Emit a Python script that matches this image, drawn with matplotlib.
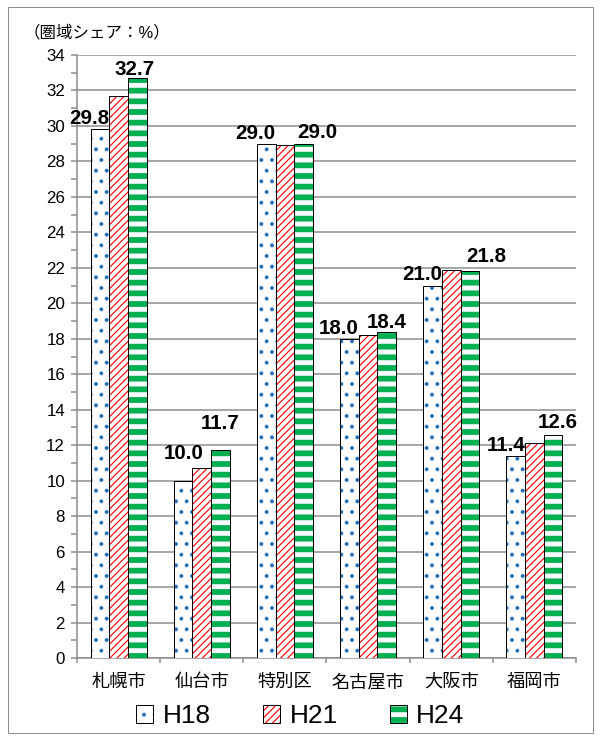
import numpy as np
import matplotlib
matplotlib.use('Agg')
import matplotlib.pyplot as plt
from matplotlib.patches import Rectangle, Patch

plt.rcParams['font.family'] = ['Liberation Sans', 'Noto Sans CJK JP', 'DejaVu Sans']

# data
cities = ['札幌市', '仙台市', '特別区', '名古屋市', '大阪市', '福岡市']
series = ['H18', 'H21', 'H24']
h18 = [29.8, 10.0, 29.0, 18.0, 21.0, 11.4]
h21 = [31.7, 10.7, 28.9, 18.2, 21.85, 12.1]
h24 = [32.7, 11.7, 29.0, 18.4, 21.8, 12.6]
yticks = list(range(0, 35, 2))
ylabel = '（圏域シェア：%）'

# styles (dpi 64 so that hatch spacing matches the reference)
DPI = 64
PX = 72 / DPI  # points per pixel
fills = ['#1f6fc0', '#ff0000', '#00b050']
hatches = ['.', '///', '-']
hatch_lw = [1.9, 1.3, 6.5]
grey = '#8c8c8c'
# label offsets in pixels (H18 right aligned to bar, H24 centred)
h18_dx = [0, 11, 0, 0, 0, 0]
h18_dy = [1, 18, 1, 1, 2, 1]
h24_dx = [-3, 0, 14, 0, 16, 5]
h24_dy = [-1, 17, 2, 0, 5, 3]


def hatched(artist, lw):
    if hasattr(artist, 'set_hatch_linewidth'):
        artist.set_hatch_linewidth(lw)


fig = plt.figure(figsize=(601 / DPI, 740 / DPI), dpi=DPI)
fig.patches.append(Rectangle((8 / 601, 7 / 740), 585 / 601, 726 / 740,
                             transform=fig.transFigure, fill=False,
                             edgecolor=grey, linewidth=1.1))
ax = fig.add_axes([77 / 601, 82 / 740, 499 / 601, 603 / 740])

x = np.arange(len(cities))
w = 0.225
for i, vals in enumerate([h18, h21, h24]):
    pos = x + (i - 1) * w
    with plt.rc_context({'hatch.linewidth': hatch_lw[i]}):
        bars = ax.bar(pos, vals, w, color='white', edgecolor=fills[i],
                      hatch=hatches[i], linewidth=0, zorder=3)
    for b in bars:
        hatched(b, hatch_lw[i])
    ax.bar(pos, vals, w, fill=False, edgecolor='black', linewidth=1.1, zorder=4)

for j in range(len(cities)):
    ax.annotate(f'{h18[j]:.1f}', (x[j] - w / 2, h18[j]),
                xytext=(h18_dx[j] * PX, h18_dy[j] * PX), textcoords='offset points',
                ha='right', va='bottom', fontsize=23, fontweight='bold', zorder=6)
    ax.annotate(f'{h24[j]:.1f}', (x[j] + w, h24[j]),
                xytext=(h24_dx[j] * PX, h24_dy[j] * PX), textcoords='offset points',
                ha='center', va='bottom', fontsize=23, fontweight='bold', zorder=6)

ax.set_ylim(0, 34)
ax.set_xlim(-0.5, len(cities) - 0.5)
ax.set_yticks(yticks)
ax.set_yticks(range(1, 34, 2), minor=True)
ax.set_xticks(x)
ax.set_xticklabels(cities, fontsize=20.5)
ax.set_xticks(np.arange(-0.5, len(cities)), minor=True)
ax.tick_params(axis='x', which='major', length=0, pad=16 * PX)
ax.tick_params(axis='x', which='minor', length=5 * PX, width=1.5 * PX, color=grey)
ax.tick_params(axis='y', which='both', length=6 * PX, width=1.5 * PX, color=grey,
               labelsize=19, pad=6 * PX)
ax.grid(axis='y', color=grey, linewidth=1.5 * PX, zorder=0)
ax.set_axisbelow(True)
for s in ['top', 'right']:
    ax.spines[s].set_visible(False)
for s in ['left', 'bottom']:
    ax.spines[s].set_color(grey)
    ax.spines[s].set_linewidth(1.5 * PX)

fig.text(97 / 601, 1 - 33 / 740, ylabel, fontsize=18.5, va='center', ha='center')

handles = []
for i in range(3):
    with plt.rc_context({'hatch.linewidth': hatch_lw[i]}):
        hp = Patch(facecolor='white', edgecolor=fills[i], hatch=hatches[i], linewidth=0)
    hatched(hp, hatch_lw[i])
    op = Patch(fill=False, edgecolor='black', linewidth=1.1)
    handles.append((hp, op))
leg = fig.legend(handles, series, loc='center', bbox_to_anchor=(0.5, 1 - 716 / 740),
                 ncol=3, frameon=False, fontsize=29.5, handlelength=0.65,
                 handleheight=0.65, handletextpad=0.35, columnspacing=2.0)
for p in leg.findobj(Rectangle):
    h = p.get_hatch()
    if h in hatches:
        hatched(p, hatch_lw[hatches.index(h)])

fig.savefig('out.png', dpi=DPI)
